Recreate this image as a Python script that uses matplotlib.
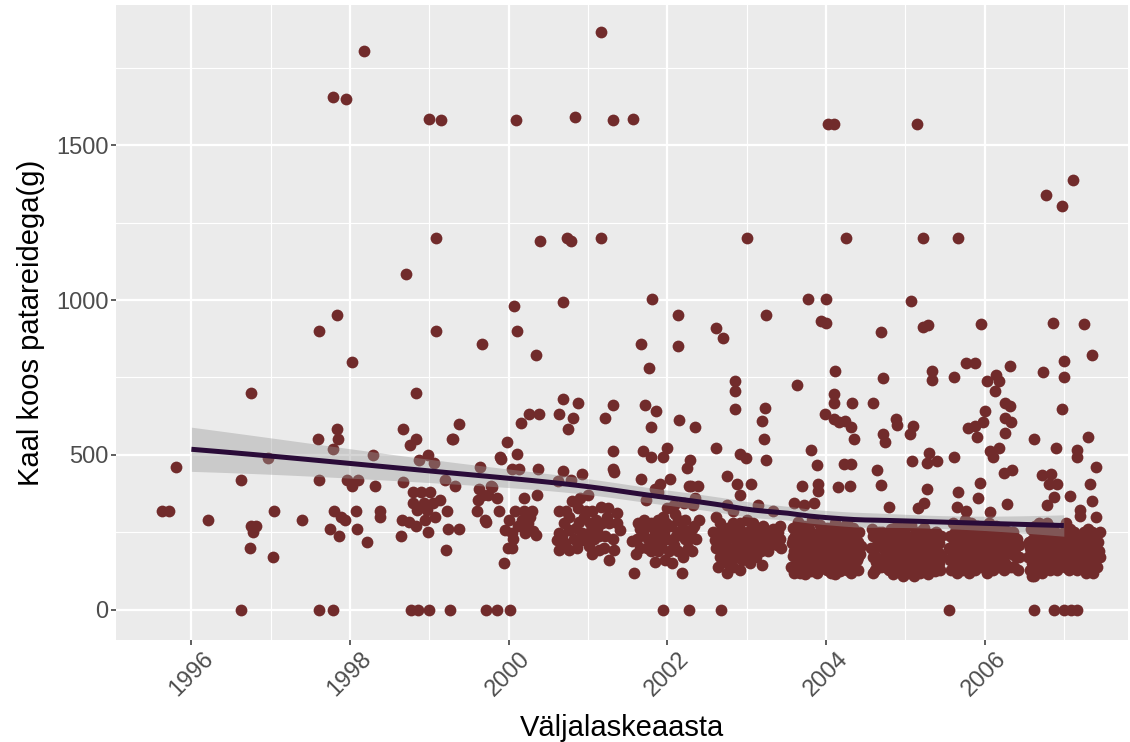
import numpy as np
import matplotlib
matplotlib.use("Agg")
import matplotlib.pyplot as plt
from matplotlib.ticker import MultipleLocator

plt.rcParams['font.family'] = ['Liberation Sans', 'DejaVu Sans']

# jittered positions: (release year + jitter, weight in g)
pts_1996 = [(1995.63, 320), (1995.72, 320), (1995.80, 461), (1996.21, 290)]

pts_1997 = [(1996.62, 419), (1996.62, 0), (1996.75, 701), (1996.96, 491), (1996.75, 271),
            (1996.81, 271), (1996.78, 250), (1996.74, 199), (1997.03, 170), (1997.04, 320),
            (1997.39, 290)]

pts_1998 = [(1997.61, 901), (1997.60, 552), (1997.84, 583), (1997.85, 552), (1997.79, 520),
            (1997.61, 419), (1997.80, 320), (1997.89, 301), (1997.94, 290), (1997.75, 260),
            (1997.86, 240), (1997.96, 419), (1998.10, 419), (1998.03, 401), (1998.08, 320),
            (1998.09, 260), (1998.22, 220), (1998.29, 501), (1998.32, 401), (1998.38, 320),
            (1998.38, 301), (1998.03, 801), (1997.84, 951), (1997.78, 1655), (1997.95, 1650),
            (1998.17, 1803), (1997.61, 0), (1997.78, 0)]

pts_1999 = [(1998.70, 1084), (1998.99, 1584), (1999.15, 1580), (1999.08, 1200), (1999.08, 901),
            (1998.83, 701), (1998.67, 583), (1998.83, 552), (1998.76, 531), (1998.98, 501),
            (1998.87, 483), (1999.06, 475), (1998.67, 413), (1998.80, 381), (1998.90, 381),
            (1999.01, 381), (1998.80, 344), (1998.93, 344), (1999.05, 344), (1998.84, 323),
            (1998.97, 323), (1999.07, 301), (1998.65, 290), (1998.74, 285), (1998.83, 270),
            (1998.95, 290), (1998.64, 240), (1998.98, 250), (1999.21, 194), (1999.24, 260),
            (1999.14, 355), (1999.22, 320), (1999.28, 552), (1999.37, 601), (1999.30, 552),
            (1999.38, 260), (1999.20, 420), (1999.32, 400),
            (1998.77, 0), (1998.86, 0), (1999.00, 0), (1999.26, 0)]

pts_2000 = [(1999.67, 858), (2000.07, 980), (2000.09, 1580), (2000.10, 901), (2000.34, 822),
            (2000.40, 1190), (2000.16, 604), (2000.26, 631), (2000.38, 631), (1999.98, 542),
            (2000.11, 502), (1999.89, 495), (1999.90, 486), (1999.64, 462), (2000.04, 454),
            (2000.13, 454), (2000.37, 454), (1999.62, 390), (1999.68, 370), (1999.61, 355),
            (1999.78, 400), (1999.85, 360), (1999.74, 370), (1999.60, 320), (1999.70, 290),
            (1999.72, 285), (1999.88, 320), (1999.96, 258), (2000.04, 248), (1999.99, 200),
            (2000.04, 200), (1999.94, 150), (2000.00, 290), (2000.08, 320), (2000.19, 320),
            (2000.30, 320), (2000.17, 290), (2000.25, 280), (2000.21, 248), (2000.34, 243),
            (2000.19, 360), (2000.36, 371), (2000.27, 300), (2000.12, 270), (2000.23, 265),
            (2000.31, 255), (1999.79, 395), (2000.06, 230),
            (1999.72, 0), (1999.85, 0), (2000.02, 0)]

pts_2001 = [(2000.84, 1590), (2001.16, 1865), (2001.32, 1580), (2000.74, 1200), (2000.78, 1190),
            (2001.16, 1200), (2000.69, 993), (2000.69, 681), (2000.88, 669), (2000.64, 631),
            (2000.81, 620), (2000.75, 583), (2001.31, 661), (2001.22, 620), (2001.31, 513),
            (2001.32, 454), (2001.33, 444), (2000.68, 448), (2000.93, 438), (2000.78, 420),
            (2000.62, 415), (2000.64, 320), (2000.72, 320), (2000.70, 280), (2000.76, 300),
            (2000.63, 248), (2000.61, 226), (2000.76, 258), (2000.85, 264), (2000.89, 285),
            (2000.97, 318), (2001.05, 318), (2001.03, 280), (2000.93, 248), (2000.93, 226),
            (2001.01, 205), (2001.14, 194), (2001.14, 237), (2001.22, 237), (2000.64, 194),
            (2000.76, 194), (2001.18, 280), (2001.27, 280), (2001.17, 333), (2001.25, 328),
            (2001.36, 312), (2001.40, 258), (2001.33, 194), (2001.27, 161), (2000.90, 360),
            (2000.80, 350), (2001.00, 370), (2000.67, 240), (2000.82, 230), (2000.98, 240),
            (2001.08, 230), (2001.10, 290), (2001.20, 200), (2001.31, 230), (2000.86, 200),
            (2001.05, 180), (2000.71, 215), (2000.95, 300), (2001.12, 260), (2001.24, 300),
            (2001.37, 280), (2000.88, 330), (2001.02, 250)]

pts_2002 = [(2001.57, 1585), (2001.81, 1003), (2002.14, 951), (2001.67, 858), (2002.13, 852),
            (2001.77, 781), (2001.72, 661), (2001.86, 643), (2001.80, 591), (2002.15, 613),
            (2002.35, 591), (2001.69, 513), (2002.00, 524), (2001.94, 492), (2001.80, 492),
            (2002.29, 484), (2002.25, 457), (2001.67, 422), (2002.03, 422), (2001.91, 405),
            (2002.30, 401), (2002.39, 401), (2002.00, 330), (2002.08, 340), (2002.21, 345),
            (2002.33, 340), (2001.73, 355), (2001.84, 390), (2001.88, 380), (2002.27, 400),
            (2002.35, 360), (2001.62, 230), (2001.56, 222), (2001.65, 200), (2001.60, 180),
            (2001.58, 120), (2001.71, 290), (2001.80, 280), (2001.88, 290), (2001.92, 270),
            (2001.84, 250), (2001.76, 230), (2001.88, 230), (2002.00, 230), (2002.05, 270),
            (2002.14, 290), (2002.22, 290), (2002.31, 262), (2002.14, 250), (2002.22, 230),
            (2001.80, 190), (2001.88, 190), (2001.84, 155), (2002.14, 190), (2002.31, 190),
            (2002.18, 120), (2002.27, 230), (2001.95, 300), (2002.10, 310), (2001.66, 260),
            (2001.74, 200), (2001.92, 210), (2002.02, 190), (2002.08, 210), (2002.18, 260),
            (2002.26, 200), (2002.36, 230), (2002.40, 290), (2001.97, 160), (2002.06, 150),
            (2001.70, 250), (2001.78, 270), (2001.83, 215), (2001.96, 250), (2002.11, 240),
            (2002.20, 170), (2002.34, 270), (2001.63, 280), (2002.25, 255), (2001.99, 280),
            (2001.95, 0), (2002.27, 0)]

pts_2003 = [(2003.01, 1200), (2002.62, 910), (2002.70, 877), (2003.25, 951), (2002.85, 739),
            (2002.86, 706), (2002.85, 647), (2003.23, 650), (2003.20, 608), (2003.22, 552),
            (2003.24, 483), (2002.61, 524), (2002.92, 502), (2002.99, 491), (2002.75, 433),
            (2002.88, 405), (2003.05, 405), (2002.75, 340), (2002.83, 320), (2002.92, 370),
            (2003.14, 340), (2003.33, 320), (2002.62, 300), (2002.66, 280), (2002.83, 280),
            (2002.92, 280), (2003.00, 290), (2003.08, 280), (2003.21, 270), (2003.33, 262),
            (2003.42, 270), (2002.66, 230), (2002.75, 230), (2002.83, 240), (2002.92, 230),
            (2003.00, 230), (2003.08, 230), (2003.16, 230), (2003.25, 230), (2003.38, 210),
            (2003.42, 230), (2002.62, 200), (2002.70, 190), (2002.83, 200), (2002.92, 190),
            (2003.04, 190), (2002.66, 170), (2002.75, 150), (2002.83, 140), (2002.92, 130),
            (2002.75, 120), (2003.04, 150), (2003.19, 145), (2003.12, 170), (2002.58, 250),
            (2002.64, 140), (2002.69, 260), (2002.72, 210), (2002.79, 170), (2002.86, 260),
            (2002.88, 170), (2002.96, 250), (2003.02, 170), (2003.06, 260), (2003.10, 200),
            (2003.14, 260), (2003.18, 190), (2003.23, 250), (2003.29, 210), (2003.35, 240),
            (2003.44, 200), (2002.60, 225), (2002.68, 215), (2002.77, 265), (2002.81, 185),
            (2002.90, 210), (2002.98, 200), (2003.03, 215), (2003.12, 235), (2003.16, 205),
            (2003.27, 190), (2003.31, 240), (2003.39, 250), (2002.73, 245), (2002.94, 160),
            (2003.07, 180), (2003.20, 215), (2002.87, 225),
            (2002.68, 0)]

pts_2004 = [(2004.03, 1568), (2004.10, 1568), (2004.25, 1200), (2003.78, 1003), (2004.00, 1003),
            (2003.94, 932), (2004.00, 927), (2004.11, 771), (2003.63, 726), (2004.10, 698),
            (2004.10, 669), (2004.33, 669), (2003.99, 632), (2004.10, 615), (2004.16, 605),
            (2004.24, 610), (2004.32, 590), (2004.36, 550), (2003.81, 516), (2003.89, 468),
            (2004.23, 471), (2004.32, 471), (2003.70, 400), (2003.90, 405), (2003.90, 385),
            (2004.15, 395), (2004.31, 400), (2003.60, 345), (2003.72, 340), (2003.85, 345)]

pts_2005 = [(2005.15, 1568), (2005.23, 1200), (2005.07, 997), (2005.22, 912), (2005.29, 920),
            (2004.70, 896), (2004.72, 748), (2005.34, 771), (2005.34, 742), (2004.60, 669),
            (2004.88, 617), (2004.90, 598), (2005.10, 593), (2005.06, 569), (2004.72, 569),
            (2004.75, 542), (2004.65, 451), (2005.08, 479), (2005.30, 505), (2005.28, 473),
            (2005.40, 482), (2004.70, 404), (2004.79, 331), (2005.28, 391), (2005.16, 330),
            (2005.24, 345)]

pts_2006 = [(2005.67, 1200), (2005.96, 921), (2005.62, 753), (2005.77, 796), (2005.88, 796),
            (2006.32, 787), (2006.15, 757), (2006.18, 738), (2006.03, 738), (2006.13, 706),
            (2006.00, 643), (2005.98, 607), (2005.88, 594), (2005.79, 586), (2005.90, 559),
            (2006.26, 669), (2006.32, 658), (2006.26, 618), (2006.34, 607), (2006.26, 572),
            (2006.18, 524), (2006.07, 514), (2006.11, 492), (2006.24, 441), (2006.35, 452),
            (2005.94, 411), (2005.92, 360), (2006.07, 317), (2006.28, 342), (2005.62, 492),
            (2005.66, 382), (2005.65, 333), (2005.77, 320),
            (2005.55, 0)]

pts_2007 = [(2006.78, 1340), (2006.98, 1303), (2007.12, 1387), (2006.86, 925), (2007.25, 921),
            (2007.36, 824), (2006.74, 769), (2007.00, 803), (2007.00, 752), (2006.98, 648),
            (2006.62, 552), (2006.90, 523), (2007.30, 557), (2007.17, 516), (2007.17, 492),
            (2007.40, 462), (2006.72, 435), (2006.84, 440), (2006.81, 405), (2006.92, 405),
            (2006.88, 363), (2006.79, 339), (2007.08, 366), (2007.33, 405), (2007.36, 350),
            (2007.20, 322), (2007.20, 302),
            (2006.63, 0), (2006.87, 0), (2007.00, 0), (2007.09, 0), (2007.17, 0)]

# solid blobs of cheap compact cameras 2004-2007: jitter offset from the year, weight
blob_2004_dx = [-.44, -.43, -.415, -.41, -.40, -.39, -.38, -.37, -.355, -.35, -.34, -.33, -.32,
                -.31, -.30, -.29, -.275, -.27, -.26, -.25, -.24, -.23, -.22, -.21, -.20, -.19,
                -.18, -.17, -.16, -.15, -.14, -.13, -.12, -.11, -.10, -.09, -.08, -.07, -.06,
                -.05, -.04, -.03, -.02, -.01, .00, .01, .02, .03, .04, .05, .06, .07, .08, .09,
                .10, .11, .12, .13, .14, .15, .16, .17, .18, .19, .20, .21, .22, .23, .24, .25,
                .26, .27, .28, .29, .30, .31, .32, .33, .34, .35, .36, .37, .38, .39, .40, .41,
                .42, .43, .44, -.405, -.255, -.105, .045, .195, .345, -.33, .27, -.18, .12, .36,
                -.36, -.24, -.12, .06, .22, .31, -.42, .41, -.02, .16]
blob_2004_y = [140, 215, 265, 175, 120, 240, 195, 155, 285, 210, 130, 180, 250, 160, 225, 140,
               270, 195, 115, 235, 170, 205, 145, 260, 185, 125, 220, 165, 290, 200, 150, 245,
               175, 120, 230, 190, 155, 275, 210, 135, 180, 250, 160, 220, 195, 130, 265, 175,
               145, 235, 200, 120, 255, 170, 215, 150, 280, 190, 135, 240, 165, 205, 125, 260,
               180, 225, 145, 195, 270, 160, 215, 130, 245, 185, 155, 230, 120, 200, 265, 170,
               140, 235, 190, 160, 220, 130, 250, 180, 205, 190, 170, 210, 170, 160, 190, 120,
               280, 290, 115, 240, 200, 185, 240, 215, 150, 180, 230, 170, 145, 250]

blob_2005_dx = [-.43, -.42, -.41, -.40, -.385, -.38, -.37, -.36, -.35, -.34, -.33, -.32, -.31,
                -.30, -.29, -.28, -.27, -.26, -.25, -.24, -.235, -.22, -.21, -.20, -.19, -.18,
                -.17, -.16, -.15, -.14, -.13, -.12, -.11, -.10, -.09, -.08, -.07, -.06, -.05,
                -.04, -.03, -.02, -.01, .00, .01, .02, .03, .04, .05, .06, .07, .08, .09, .10,
                .11, .12, .13, .14, .15, .16, .17, .18, .19, .20, .21, .22, .23, .24, .25, .26,
                .27, .28, .29, .30, .31, .32, .33, .34, .35, .36, .37, .38, .39, .40, .41, .42,
                .43, .44, .45, .46, -.365, -.215, -.065, .085, .235, .385, -.30, -.14, .02, .18,
                .33, -.41, -.25, -.08, .10, .26, .42, -.02, .14, -.18]
blob_2005_y = [200, 260, 170, 240, 130, 200, 170, 230, 140, 210, 250, 160, 230, 140, 250, 200,
               170, 240, 200, 140, 220, 180, 130, 240, 190, 150, 260, 210, 115, 175, 230, 140,
               195, 270, 155, 215, 125, 185, 245, 165, 110, 205, 265, 150, 225, 180, 120, 240,
               195, 160, 275, 135, 215, 180, 110, 230, 160, 250, 195, 140, 225, 170, 120, 255,
               185, 145, 210, 265, 130, 190, 235, 155, 115, 215, 180, 245, 140, 200, 160, 230,
               125, 195, 250, 170, 140, 215, 185, 130, 240, 175, 155, 210, 175, 135, 245, 195,
               150, 180, 220, 165, 205, 120, 140, 125, 160, 130, 150, 230, 195, 260]

blob_2006_dx = [-.45, -.44, -.43, -.42, -.41, -.40, -.39, -.38, -.37, -.36, -.35, -.34, -.33,
                -.32, -.31, -.30, -.29, -.28, -.27, -.26, -.25, -.24, -.23, -.22, -.21, -.20,
                -.19, -.18, -.17, -.16, -.15, -.14, -.13, -.12, -.11, -.10, -.09, -.08, -.07,
                -.06, -.05, -.04, -.03, -.02, -.01, .00, .01, .02, .03, .04, .05, .06, .07, .08,
                .09, .10, .11, .12, .13, .14, .15, .16, .17, .18, .19, .20, .21, .22, .23, .24,
                .25, .26, .27, .28, .29, .30, .31, .32, .33, .34, .35, .36, .37, .38, .39, .40,
                .41, .42, .43, .44, -.395, -.245, -.095, .055, .205, .355, -.31, -.16, .00, .16,
                .30, -.36, -.20, -.05, .11, .24, .38]
blob_2006_y = [200, 160, 240, 130, 190, 280, 220, 150, 250, 180, 120, 210, 270, 160, 230, 190,
               130, 250, 170, 220, 290, 150, 200, 260, 170, 120, 230, 190, 280, 150, 210, 250,
               170, 130, 220, 190, 270, 160, 230, 200, 140, 250, 180, 220, 160, 200, 260, 170,
               120, 230, 190, 280, 150, 210, 250, 170, 130, 220, 190, 270, 160, 230, 200, 140,
               250, 180, 220, 160, 230, 180, 260, 150, 200, 230, 140, 190, 250, 200, 140, 230,
               180, 250, 140, 220, 200, 170, 230, 130, 170, 210, 185, 175, 215, 165, 195, 235,
               145, 205, 240, 155, 185, 210, 150, 240, 175, 130, 200]

blob_2007_dx = [-.45, -.44, -.43, -.42, -.41, -.40, -.39, -.38, -.37, -.36, -.35, -.34, -.33,
                -.32, -.31, -.30, -.29, -.28, -.27, -.26, -.25, -.24, -.23, -.22, -.21, -.20,
                -.19, -.18, -.17, -.16, -.15, -.14, -.13, -.12, -.11, -.10, -.09, -.08, -.07,
                -.06, -.05, -.04, -.03, -.02, -.01, .00, .01, .02, .03, .04, .05, .06, .07, .08,
                .09, .10, .11, .12, .13, .14, .15, .16, .17, .18, .19, .20, .21, .22, .23, .24,
                .25, .26, .27, .28, .29, .30, .31, .32, .33, .34, .35, .36, .37, .38, .39, .40,
                .41, .42, .43, .44, .45, .46, -.425, -.275, -.125, .025, .175, .325, -.40, .40,
                -.35, -.19, -.03, .13, .28, .43, -.30, -.10, .07, .22, .37, -.15, .05]
blob_2007_y = [170, 220, 130, 260, 190, 150, 230, 110, 200, 270, 160, 240, 130, 190, 280, 220,
               150, 250, 120, 200, 170, 240, 140, 210, 280, 180, 230, 130, 200, 260, 160, 220,
               140, 190, 250, 170, 210, 130, 240, 180, 150, 220, 190, 160, 230, 250, 140, 210,
               280, 180, 230, 130, 200, 260, 160, 220, 140, 190, 250, 170, 210, 130, 240, 180,
               150, 220, 190, 160, 230, 200, 140, 250, 180, 120, 220, 160, 260, 190, 140, 230,
               170, 250, 120, 200, 160, 240, 180, 140, 220, 190, 250, 170, 200, 240, 210, 160,
               230, 180, 110, 300, 185, 215, 165, 195, 235, 175, 205, 145, 225, 155, 245, 265,
               175, 210, 200]

blobs = [(2004, blob_2004_dx, blob_2004_y), (2005, blob_2005_dx, blob_2005_y),
         (2006, blob_2006_dx, blob_2006_y), (2007, blob_2007_dx, blob_2007_y)]

groups = [pts_1996, pts_1997, pts_1998, pts_1999, pts_2000, pts_2001,
          pts_2002, pts_2003, pts_2004, pts_2005, pts_2006, pts_2007]

pts = [p for g in groups for p in g]
for year, dxs, ys in blobs:
    pts += [(year + d, v) for d, v in zip(dxs, ys)]
pts = np.array(pts, dtype=float)
xj = pts[:, 0]
wt = pts[:, 1]
yr = np.round(xj)   # smoother works on the un-jittered year


def loess_rows(x, x0s, span=0.75, degree=1):
    n = len(x)
    q = int(np.floor(n * span))
    rows = []
    for x0 in x0s:
        d = np.abs(x - x0)
        h = np.sort(d)[q - 1] * 1.0001
        w = np.clip(1 - (d / h) ** 3, 0, None) ** 3
        X = np.column_stack([(x - x0) ** k for k in range(degree + 1)])
        XtW = X.T * w
        rows.append(np.linalg.solve(XtW @ X, XtW)[0])
    return np.array(rows)


# local fit + 95% band
uniq = np.unique(yr)
Lu = loess_rows(yr, uniq)
idx = np.searchsorted(uniq, yr)
Ld = Lu[idx]
res = wt - Ld @ wt
n = len(yr)
tr1 = np.sum(Ld[np.arange(n), np.arange(n)])
delta1 = n - 2 * tr1 + np.sum(Ld ** 2)
sigma = np.sqrt(np.sum(res ** 2) / delta1)

xs = np.linspace(uniq.min(), uniq.max(), 80)
Ls = loess_rows(yr, xs)
fit = Ls @ wt
se = sigma * np.sqrt(np.sum(Ls ** 2, axis=1))

# PLOT
fig = plt.figure(figsize=(11.3, 7.42), dpi=100)
ax = fig.add_axes([0.1027, 0.1375, 0.8956, 0.8558])
ax.set_facecolor('#EBEBEB')

ax.scatter(xj, wt, s=72, color='#712B2B', linewidths=0, zorder=3)
ax.fill_between(xs, fit - 1.965 * se, fit + 1.965 * se, color='#999999', alpha=0.4,
                linewidth=0, zorder=4)
ax.plot(xs, fit, color='#2A0B38', lw=3.6, zorder=5, solid_capstyle='butt')

ax.set_xticks(range(1996, 2008, 2))
ax.xaxis.set_minor_locator(MultipleLocator(1))
ax.yaxis.set_major_locator(MultipleLocator(500))
ax.yaxis.set_minor_locator(MultipleLocator(250))
ax.set_xlim(1995.05, 2007.81)
ax.set_ylim(-97, 1952)
ax.grid(which='major', color='white', lw=1.6, zorder=1)
ax.grid(which='minor', color='white', lw=0.8, zorder=1)
ax.set_axisbelow(True)
for s in ax.spines.values():
    s.set_visible(False)

ax.tick_params(which='major', length=3.5, width=1.1, color='#333333',
               labelsize=17, labelcolor='#4D4D4D', pad=2)
ax.tick_params(which='minor', length=0)
plt.setp(ax.get_xticklabels(), rotation=45, ha='center', va='top')

ax.set_xlabel('Väljalaskeaasta', fontsize=21, labelpad=10)
ax.set_ylabel('Kaal koos patareidega(g)', fontsize=21, labelpad=8)

fig.savefig('out.png', dpi=100)
